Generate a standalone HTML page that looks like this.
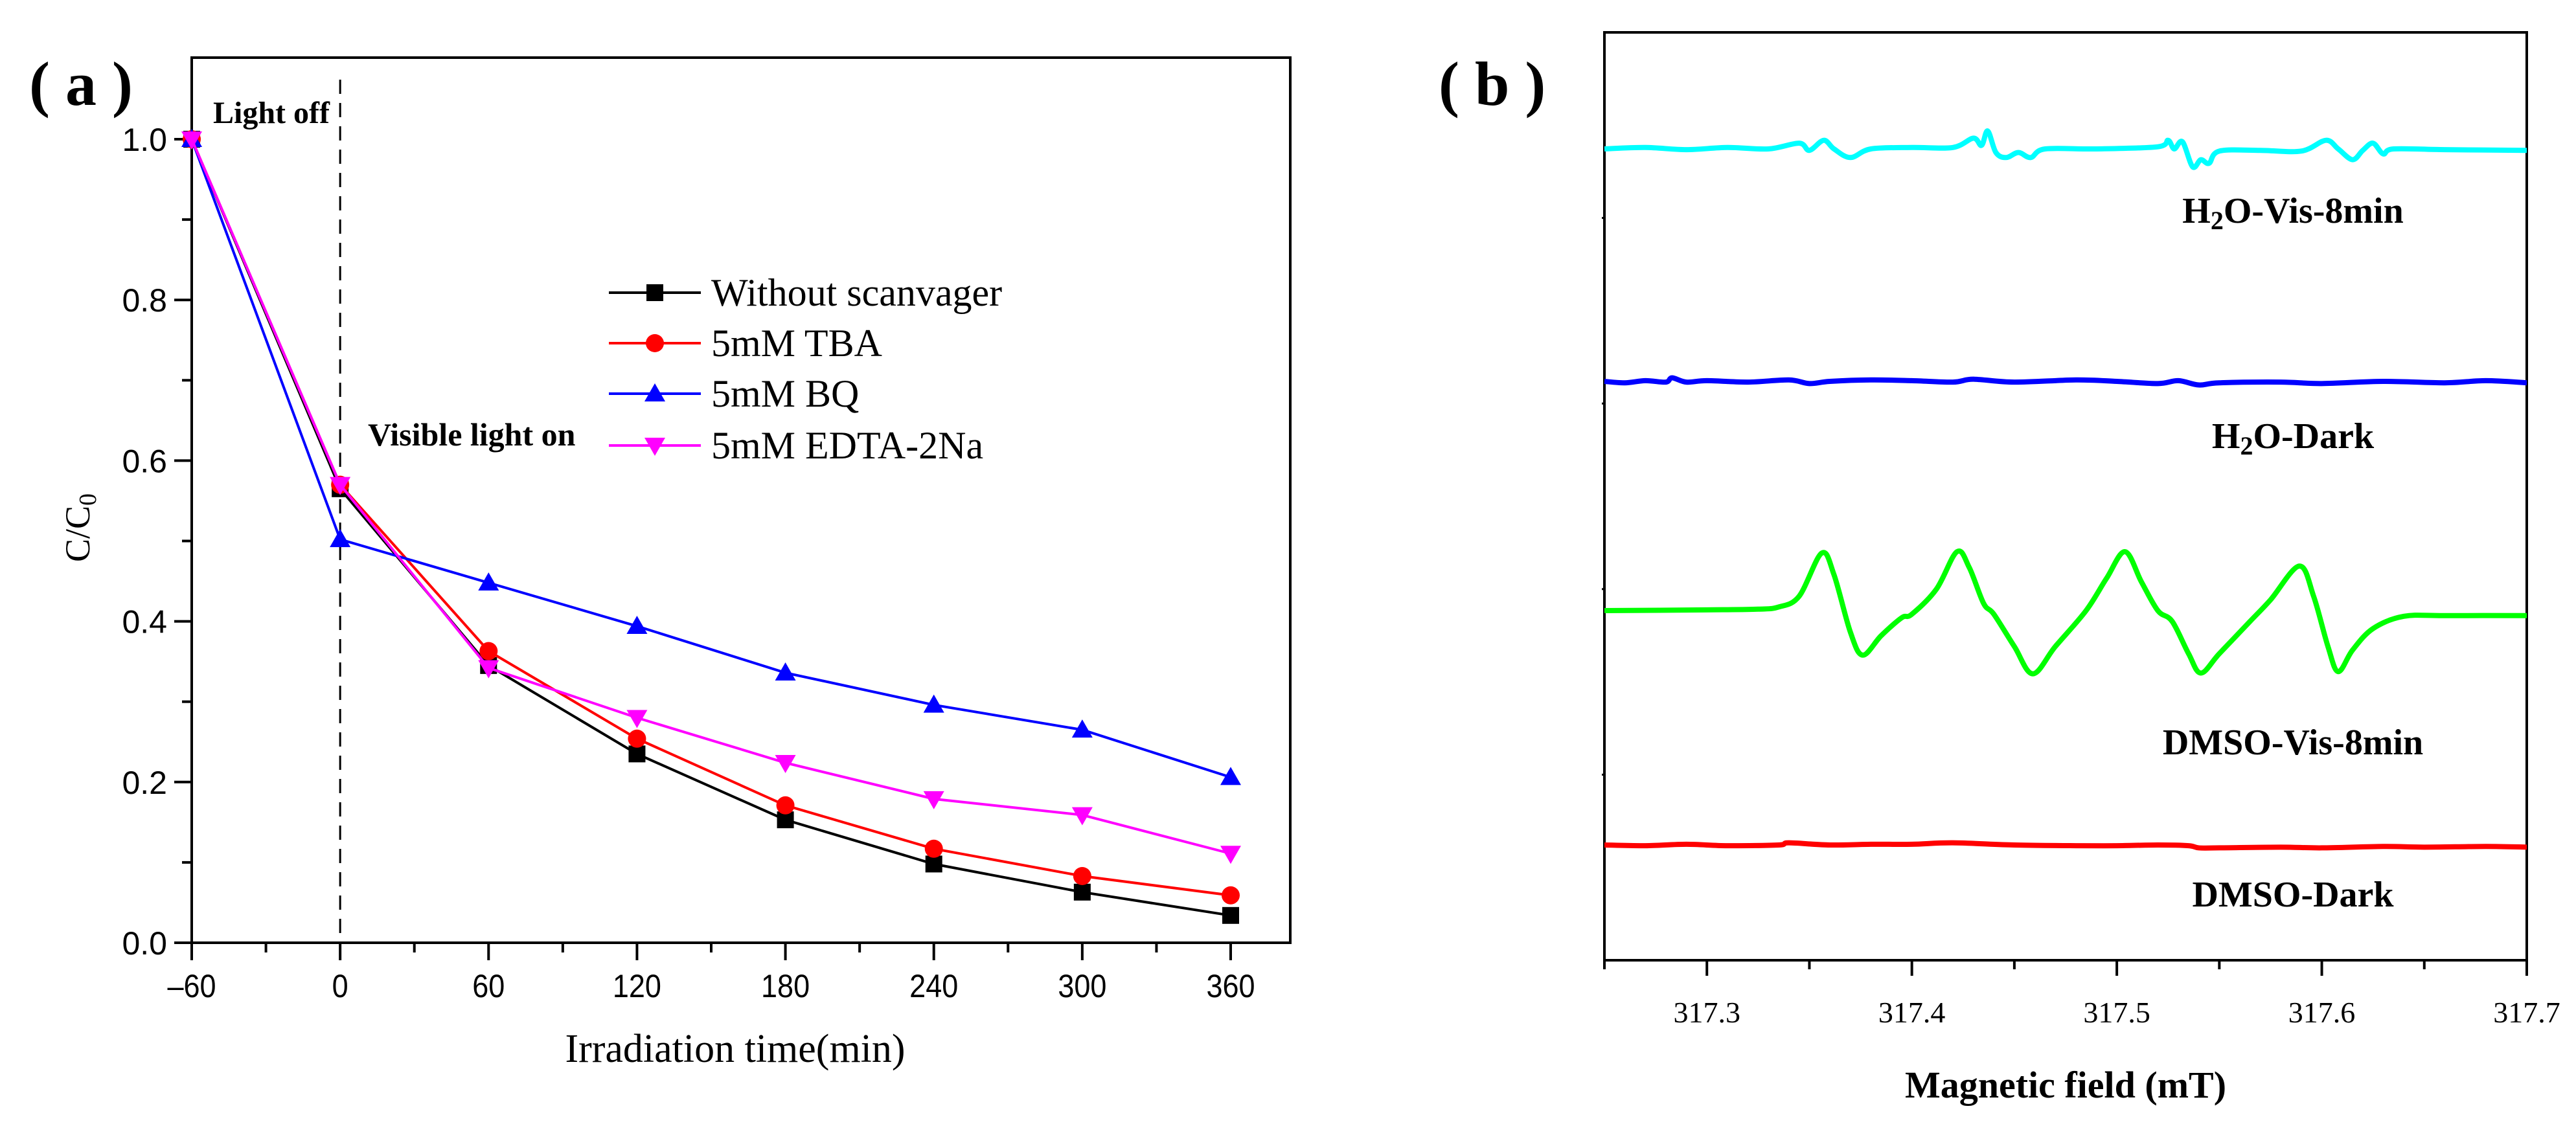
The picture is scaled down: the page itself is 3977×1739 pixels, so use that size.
<!DOCTYPE html>
<html><head><meta charset="utf-8">
<style>
html,body{margin:0;padding:0;background:#fff;}
svg{display:block;}
</style></head>
<body>
<svg id="fig" width="3977" height="1739" viewBox="0 0 3977 1739" xmlns="http://www.w3.org/2000/svg">
<rect x="0" y="0" width="3977" height="1739" fill="#fff"/>
<g id="pa"></g>
<g id="pb"></g>
</svg>
<script>
// ---------- Panel (a) data ----------
const timeCats = [-60, 0, 60, 120, 180, 240, 300, 360];
const withoutScav = [1.0, 0.565, 0.345, 0.235, 0.153, 0.098, 0.063, 0.034];
const tba = [1.0, 0.57, 0.363, 0.254, 0.171, 0.117, 0.083, 0.059];
const bq = [1.0, 0.502, 0.448, 0.394, 0.336, 0.296, 0.265, 0.206];
const edta = [1.0, 0.57, 0.342, 0.280, 0.224, 0.179, 0.159, 0.111];
const xTicksA = [-60, 0, 60, 120, 180, 240, 300, 360];
const xTickLabelsA = ["\u201360", "0", "60", "120", "180", "240", "300", "360"];
const yTicksA = [0, 0.2, 0.4, 0.6, 0.8, 1.0];
const yTickLabelsA = ["0.0", "0.2", "0.4", "0.6", "0.8", "1.0"];
const legendLabels = ["Without scanvager", "5mM TBA", "5mM BQ", "5mM EDTA-2Na"];

// ---------- Panel (b) data (field mT, relative intensity) ----------
const cyanField = [317.25,317.27,317.29,317.31,317.33,317.345,317.35,317.357,317.362,317.37,317.38,317.40,317.42,317.43,317.434,317.437,317.441,317.446,317.452,317.458,317.465,317.49,317.52,317.525,317.528,317.532,317.537,317.541,317.545,317.55,317.57,317.59,317.602,317.608,317.615,317.62,317.625,317.63,317.635,317.66,317.70];
const cyanInt = [0,2,-1,2,0,8,-2,12,0,-12,0,2,2,15,5,25,-5,-12,-5,-12,0,0,3,12,0,10,-25,-15,-20,-3,-2,-3,12,0,-15,-2,8,-7,0,-1,-2];
const blueField = [317.25,317.26,317.27,317.28,317.283,317.29,317.30,317.32,317.34,317.35,317.36,317.38,317.40,317.42,317.43,317.45,317.48,317.50,317.52,317.53,317.54,317.55,317.58,317.60,317.63,317.66,317.68,317.70];
const blueInt = [0,-2,1,-1,5,-1,1,-1,2,-3,0,2,1,-1,3,-1,2,0,-3,1,-5,-2,-1,-3,0,-2,1,-2];
const greenField = [317.25,317.30,317.325,317.335,317.345,317.356,317.362,317.370,317.376,317.385,317.395,317.400,317.412,317.422,317.428,317.435,317.440,317.450,317.459,317.470,317.485,317.495,317.504,317.512,317.520,317.527,317.535,317.541,317.550,317.565,317.575,317.589,317.596,317.603,317.608,317.615,317.625,317.640,317.660,317.700];
const greenInt = [0,1,2,5,20,80,50,-30,-62,-35,-10,-5,30,82,60,10,-5,-50,-88,-50,0,45,82,40,0,-15,-60,-87,-60,-15,15,62,20,-50,-85,-55,-25,-8,-7,-7];
const redField = [317.25,317.27,317.29,317.31,317.335,317.34,317.36,317.38,317.40,317.42,317.45,317.48,317.50,317.52,317.535,317.54,317.55,317.58,317.60,317.63,317.65,317.68,317.70];
const redInt = [0,-1,1,-1,0,3,0,1,1,3,0,-1,-1,0,-1,-4,-4,-3,-4,-2,-3,-2,-3];
const xTicksB = [317.3, 317.4, 317.5, 317.6, 317.7];
const xTickLabelsB = ["317.3", "317.4", "317.5", "317.6", "317.7"];
const traceLabels = ["H2O-Vis-8min", "H2O-Dark", "DMSO-Vis-8min", "DMSO-Dark"];

const NS = "http://www.w3.org/2000/svg";
function mk(parent, tag, attrs, text){
  const e = document.createElementNS(NS, tag);
  for (const k in attrs) e.setAttribute(k, attrs[k]);
  if (text !== undefined) e.textContent = text;
  parent.appendChild(e);
  return e;
}

// ===== Panel A =====
const pa = document.getElementById('pa');
const AL = 296, AR = 1992, AT = 89, AB = 1456;
const ax = v => 296 + (v + 60) / 420 * (1900 - 296);
const ay = v => 1456 - v * (1456 - 215);

let e;
e = mk(pa, 'rect', {x:AL, y:AT, width:AR-AL, height:AB-AT, fill:'none', stroke:'#000', 'stroke-width':4});



for (let v = -60; v <= 360; v += 30) {
  const major = (v % 60 === 0);
  e = mk(pa, 'line', {x1:ax(v), x2:ax(v), y1:AB, y2:AB + (major ? 27 : 15), stroke:'#000', 'stroke-width':4});
  
  
}
xTicksA.forEach((v, i) => {
  e = mk(pa, 'text', {x:ax(v), y:1540, 'text-anchor':'middle', 'font-family':'Liberation Sans, sans-serif', 'font-size':50, transform:`translate(${ax(v)},0) scale(0.9,1) translate(${-ax(v)},0)`}, xTickLabelsA[i]);
  
  
});
for (let k = 0; k <= 10; k++) {
  const v = k * 0.1;
  const major = (k % 2 === 0);
  e = mk(pa, 'line', {x1:AL - (major ? 27 : 15), x2:AL, y1:ay(v), y2:ay(v), stroke:'#000', 'stroke-width':4});
  
  
}
yTicksA.forEach((v, i) => {
  e = mk(pa, 'text', {x:258, y:ay(v) + 18, 'text-anchor':'end', 'font-family':'Liberation Sans, sans-serif', 'font-size':50}, yTickLabelsA[i]);
  
  
});
e = mk(pa, 'text', {x:1135, y:1640, 'text-anchor':'middle', 'font-family':'Liberation Serif, serif', 'font-size':62}, 'Irradiation time(min)');


e = mk(pa, 'text', {x:0, y:0, 'text-anchor':'middle', 'font-family':'Liberation Serif, serif', 'font-size':54, transform:'translate(138,815) rotate(-90)'});


e.innerHTML = 'C/C<tspan font-size="38" dy="10">0</tspan>';

e = mk(pa, 'text', {x:45, y:162, 'font-family':'Liberation Serif, serif', 'font-weight':'bold', 'font-size':96}, '( a )');



e = mk(pa, 'line', {x1:ax(0), x2:ax(0), y1:123, y2:AB, stroke:'#000', 'stroke-width':3, 'stroke-dasharray':'22,14'});


e = mk(pa, 'text', {x:329, y:190, 'font-family':'Liberation Serif, serif', 'font-weight':'bold', 'font-size':48}, 'Light off');


e = mk(pa, 'text', {x:568, y:688, 'font-family':'Liberation Serif, serif', 'font-weight':'bold', 'font-size':50}, 'Visible light on');



function marker(g, type, cx, cy, color){
  let m;
  const s = 13;
  if (type === 'square') m = mk(g, 'rect', {x:cx-s, y:cy-s, width:2*s, height:2*s, fill:color});
  else if (type === 'circle') m = mk(g, 'circle', {cx:cx, cy:cy, r:s+1, fill:color});
  else if (type === 'up') m = mk(g, 'polygon', {points:`${cx},${cy-16} ${cx-16},${cy+12} ${cx+16},${cy+12}`, fill:color});
  else m = mk(g, 'polygon', {points:`${cx},${cy+16} ${cx-16},${cy-12} ${cx+16},${cy-12}`, fill:color});
  return m;
}
const seriesA = [
  {vals: withoutScav, color:'#000000', m:'square', name:'without-scavenger'},
  {vals: tba, color:'#ff0000', m:'circle', name:'tba'},
  {vals: bq, color:'#0000ff', m:'up', name:'bq'},
  {vals: edta, color:'#ff00ff', m:'down', name:'edta-2na'}
];
seriesA.forEach((s, si) => {
  const g = mk(pa, 'g', {});
  
  
  const pts = s.vals.map((v, i) => `${ax(timeCats[i])},${ay(v)}`).join(' ');
  e = mk(g, 'polyline', {points:pts, fill:'none', stroke:s.color, 'stroke-width':4});
  
  
  s.vals.forEach((v, i) => {
    e = marker(g, s.m, ax(timeCats[i]), ay(v), s.color);
    
    
  });
  const ly = [452, 530, 608, 688][si];
  const lg = mk(pa, 'g', {});
  
  
  e = mk(lg, 'line', {x1:940, x2:1082, y1:ly, y2:ly, stroke:s.color, 'stroke-width':4});
  
  
  e = marker(lg, s.m, 1011, ly, s.color);
  
  
  e = mk(lg, 'text', {x:1098, y:ly + 20, 'font-family':'Liberation Serif, serif', 'font-size':60}, legendLabels[si]);
  
  
});

// ===== Panel B =====
const pb = document.getElementById('pb');
const BL = 2477, BR = 3901, BT = 50, BB = 1483;
const bx = f => BL + (f - 317.25) / 0.45 * (BR - BL);
const INT = 1.109;
e = mk(pb, 'rect', {x:BL, y:BT, width:BR-BL, height:BB-BT, fill:'none', stroke:'#000', 'stroke-width':4});


for (let k = 0; k <= 9; k++) {
  const f = 317.25 + k * 0.05;
  const major = (k % 2 === 1);
  e = mk(pb, 'line', {x1:bx(f), x2:bx(f), y1:BB, y2:BB + (major ? 24 : 14), stroke:'#000', 'stroke-width':4});
  
  
}
for (let k = 1; k <= 4; k++) {
  e = mk(pb, 'line', {x1:BL - 4, x2:BL, y1:BT + k * (BB - BT) / 5, y2:BT + k * (BB - BT) / 5, stroke:'#000', 'stroke-width':3});
  
  
}
xTicksB.forEach((v, i) => {
  e = mk(pb, 'text', {x:bx(v), y:1579, 'text-anchor':'middle', 'font-family':'Liberation Serif, serif', 'font-size':46}, xTickLabelsB[i]);
  
  
});
e = mk(pb, 'text', {x:3189, y:1695, 'text-anchor':'middle', 'font-family':'Liberation Serif, serif', 'font-weight':'bold', 'font-size':58}, 'Magnetic field (mT)');


e = mk(pb, 'text', {x:2221, y:162, 'font-family':'Liberation Serif, serif', 'font-weight':'bold', 'font-size':96}, '( b )');



const traces = [
  {f: cyanField, v: cyanInt, base: 230, color:'#00ffff', name:'h2o-vis-8min', ly:344},
  {f: blueField, v: blueInt, base: 589, color:'#0000ff', name:'h2o-dark', ly:692},
  {f: greenField, v: greenInt, base: 943, color:'#00ff00', name:'dmso-vis-8min', ly:1165},
  {f: redField, v: redInt, base: 1305, color:'#ff0000', name:'dmso-dark', ly:1400}
];
traces.forEach((t, ti) => {
  const P = t.f.map((f, i) => [bx(f), t.base - t.v[i] * INT]);
  let d = `M${P[0][0]},${P[0][1]}`;
  for (let i = 0; i < P.length - 1; i++) {
    const p0 = P[Math.max(0, i - 1)], p1 = P[i], p2 = P[i + 1], p3 = P[Math.min(P.length - 1, i + 2)];
    const c1x = p1[0] + (p2[0] - p0[0]) / 6, c1y = p1[1] + (p2[1] - p0[1]) / 6;
    const c2x = p2[0] - (p3[0] - p1[0]) / 6, c2y = p2[1] - (p3[1] - p1[1]) / 6;
    d += ` C${c1x},${c1y} ${c2x},${c2y} ${p2[0]},${p2[1]}`;
  }
  e = mk(pb, 'path', {d:d, fill:'none', stroke:t.color, 'stroke-width':8, 'stroke-linejoin':'round'});
  
  
  const lbl = mk(pb, 'text', {x:3540, y:t.ly, 'text-anchor':'middle', 'font-family':'Liberation Serif, serif', 'font-weight':'bold', 'font-size':56});
  
  
  const txt = traceLabels[ti];
  if (txt.startsWith('H2O')) {
    lbl.innerHTML = 'H<tspan font-size="40" dy="10">2</tspan><tspan dy="-10">' + txt.slice(2) + '</tspan>';
  } else {
    lbl.textContent = txt;
  }
});
</script>
</body></html>
